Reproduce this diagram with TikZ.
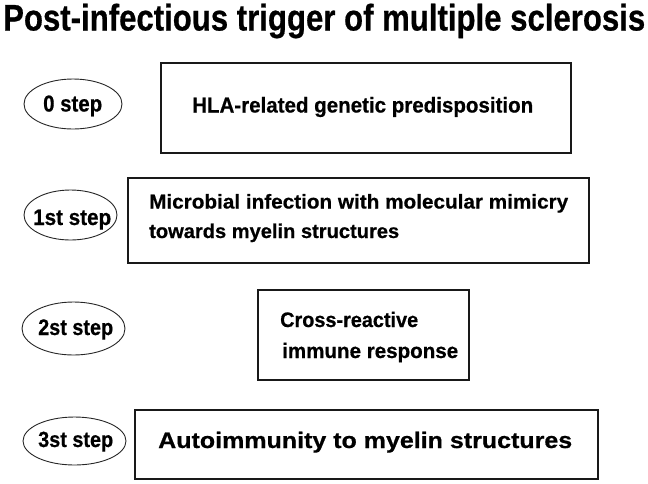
\documentclass[tikz,border=0pt]{standalone}
\usepackage{fontspec}
\setmainfont{Liberation Sans}
\newfontfamily\heavy[FakeBold=0.6]{Liberation Sans Bold}
\usetikzlibrary{shapes.geometric}
\newcommand\fitw[3]{\resizebox{#1pt}{\height}{\fontsize{#2}{#2}\selectfont\heavy #3}}
\begin{document}
\begin{tikzpicture}[x=1pt,y=-1pt,
  box/.style={draw=black!90, line width=1.3pt, inner sep=0pt},
  oval/.style={ellipse, draw=black!85, line width=0.9pt, inner sep=0pt},
  txt/.style={inner sep=0pt, anchor=base west}]
\useasboundingbox (0,0) rectangle (648,483);
\node[txt] (title) at (3,30.5) {\fitw{642}{37}{Post-infectious trigger of multiple sclerosis}};
% boxes
\node[box, minimum width=410pt, minimum height=90pt] (b0) at (366,108) {};
\node[box, minimum width=461pt, minimum height=85pt] (b1) at (358.5,220.5) {};
\node[box, minimum width=211pt, minimum height=90pt] (b2) at (363.5,335) {};
\node[box, minimum width=463pt, minimum height=69pt] (b3) at (366.5,444.5) {};
% ellipses
\node[oval, minimum width=98pt, minimum height=50pt] (e0) at (73,104) {};
\node[oval, minimum width=93pt, minimum height=50pt] (e1) at (70.5,215) {};
\node[oval, minimum width=103pt, minimum height=53pt] (e2) at (73.5,328.5) {};
\node[oval, minimum width=103pt, minimum height=48pt] (e3) at (74.5,441) {};
% step labels
\node[txt] (s0) at (43,111.5) {\fitw{59}{23}{0 step}};
\node[txt] (s1) at (33,225) {\fitw{78}{22.5}{1st step}};
\node[txt] (s2) at (38,335) {\fitw{75}{22.5}{2st step}};
\node[txt] (s3) at (38,447) {\fitw{75}{22}{3st step}};
% box texts
\node[txt] (t0) at (192,112.5) {\fitw{341}{21.5}{HLA-related genetic predisposition}};
\node[txt] (t1a) at (149,208.5) {\fitw{419}{20}{Microbial infection with molecular mimicry}};
\node[txt] (t1b) at (149,238) {\fitw{250}{20}{towards myelin structures}};
\node[txt] (t2a) at (280,327) {\fitw{138}{21}{Cross-reactive}};
\node[txt] (t2b) at (282,358) {\fitw{176}{21}{immune response}};
\node[txt] (t3) at (158,448) {\fitw{414}{22.5}{Autoimmunity to myelin structures}};
\end{tikzpicture}
\end{document}
